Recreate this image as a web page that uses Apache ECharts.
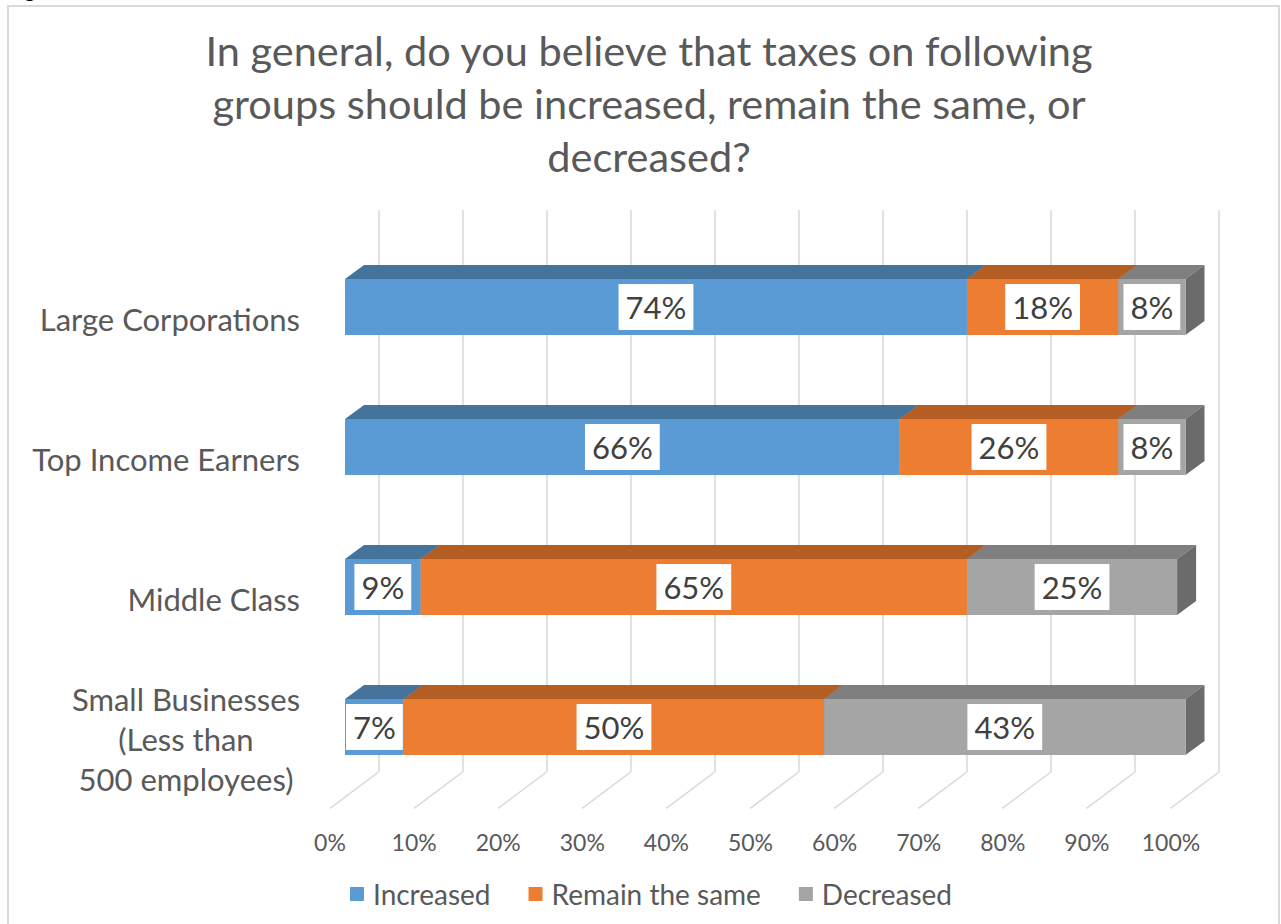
<!DOCTYPE html>
<html>
<head>
<meta charset="utf-8">
<script src="https://cdn.jsdelivr.net/npm/echarts@6/dist/echarts.min.js"></script>
<style>
  html, body { margin: 0; padding: 0; background: #fff; }
  #chart { width: 1281px; height: 924px; }
</style>
</head>
<body>
<div id="chart"></div>
<script>
// Survey answers, percent of respondents per group
const categories = [
  'Large Corporations',
  'Top Income Earners',
  'Middle Class',
  'Small Businesses\n(Less than\n500 employees)'
];
const increased  = [74, 66, 9, 7];
const remainSame = [18, 26, 65, 50];
const decreased  = [8, 8, 25, 43];
const seriesNames = ['Increased', 'Remain the same', 'Decreased'];
const tickValues = [0, 10, 20, 30, 40, 50, 60, 70, 80, 90, 100];

// Face colours for the 3-D blocks: front, top, side
const palette = [
  { front: '#5B9BD5', top: '#44739C', side: '#3B6690' },
  { front: '#ED7D31', top: '#B45E23', side: '#9E521E' },
  { front: '#A5A5A5', top: '#7F7F7F', side: '#6B6B6B' }
];

// Oblique projection offset for the block depth and the floor depth
const BAR_DX = 19, BAR_DY = -14;
const FLOOR_DX = -48.5, FLOOR_DY = 36.3;

const FONT = 'Lato, "Open Sans", sans-serif';
const TEXT = '#595959';

// Build stacked segments: [categoryIndex, start, end, value]
const valueSets = [increased, remainSame, decreased];
const cumulative = categories.map(() => 0);
const segments = valueSets.map(vals => vals.map((v, i) => {
  const s = cumulative[i];
  cumulative[i] += v;
  return [i, s, s + v, v];
}));

function makeBlockRenderer(colors) {
  return function (params, api) {
    const cat = api.value(0);
    const start = api.coord([api.value(1), cat]);
    const end = api.coord([api.value(2), cat]);
    const h = api.size([0, 1])[1] * 0.4;
    const x0 = start[0], x1 = end[0];
    const yT = start[1] - h / 2, yB = start[1] + h / 2;
    const val = api.value(3);
    return {
      type: 'group',
      children: [
        {
          type: 'polygon',
          shape: { points: [[x0, yT], [x1, yT], [x1 + BAR_DX, yT + BAR_DY], [x0 + BAR_DX, yT + BAR_DY]] },
          style: { fill: colors.top }
        },
        {
          type: 'polygon',
          shape: { points: [[x1, yT], [x1 + BAR_DX, yT + BAR_DY], [x1 + BAR_DX, yB + BAR_DY], [x1, yB]] },
          style: { fill: colors.side }
        },
        {
          type: 'rect',
          shape: { x: x0, y: yT, width: x1 - x0, height: yB - yT },
          style: { fill: colors.front }
        },
        {
          type: 'text',
          style: {
            text: val + '%',
            x: (x0 + x1) / 2,
            y: (yT + yB) / 2,
            align: 'center',
            verticalAlign: 'middle',
            fill: '#404040',
            fontSize: 31,
            fontFamily: FONT,
            lineHeight: 38,
            backgroundColor: '#ffffff',
            padding: [4, 7]
          }
        }
      ]
    };
  };
}

const chart = echarts.init(document.getElementById('chart'), null, { renderer: 'svg' });

const option = {
  backgroundColor: '#ffffff',
  textStyle: { fontFamily: FONT },
  animation: false,
  graphic: [
    {
      type: 'rect',
      shape: { x: 8, y: 6, width: 1271, height: 930 },
      style: { fill: 'none', stroke: '#d9d9d9', lineWidth: 2 },
      z: -10
    },
    {
      type: 'text',
      left: 8,
      top: -21,
      style: { text: 'Figure', fill: '#000', fontSize: 20, fontWeight: 'bold', fontFamily: FONT }
    }
  ],
  title: {
    text: 'In general, do you believe that taxes on following\ngroups should be increased, remain the same, or\ndecreased?',
    left: 644,
    top: 18,
    textAlign: 'center',
    textStyle: {
      color: TEXT,
      fontSize: 41.5,
      fontWeight: 'normal',
      lineHeight: 53,
      fontFamily: FONT
    }
  },
  legend: {
    data: seriesNames,
    bottom: 16,
    left: 350,
    padding: 0,
    icon: 'rect',
    itemWidth: 14,
    itemHeight: 14,
    itemGap: 38,
    textStyle: { color: TEXT, fontSize: 28, fontFamily: FONT, padding: [0, 0, 0, 4] }
  },
  grid: [
    // front faces of the blocks
    { left: 345, width: 840.5, top: 237, height: 560 },
    // back wall carrying the gridlines
    { left: 378.5, width: 840.5, top: 210, height: 562 },
    // front edge of the floor: axis labels
    { left: 330, width: 841, top: 249, height: 560 }
  ],
  xAxis: [
    { gridIndex: 0, type: 'value', min: 0, max: 100, show: false },
    {
      gridIndex: 1, type: 'value', min: 0, max: 100, interval: 10,
      axisLabel: { show: false }, axisLine: { show: false }, axisTick: { show: false },
      splitLine: { show: true, lineStyle: { color: '#d9d9d9', width: 1.5 } }
    },
    {
      gridIndex: 2, type: 'value', min: 0, max: 100, interval: 10,
      axisLine: { show: false }, axisTick: { show: false }, splitLine: { show: false },
      axisLabel: {
        formatter: v => v + '%',
        color: TEXT, fontSize: 23, fontFamily: FONT, margin: 21
      }
    }
  ],
  yAxis: [
    { gridIndex: 0, type: 'category', data: categories, inverse: true, show: false },
    { gridIndex: 1, type: 'value', min: 0, max: 1, show: false },
    {
      gridIndex: 2, type: 'category', data: categories, inverse: true,
      axisLine: { show: false }, axisTick: { show: false },
      axisLabel: {
        color: TEXT, fontSize: 31, fontFamily: FONT, margin: 30, lineHeight: 40,
        formatter: v => v.indexOf('\n') >= 0
          ? v.split('\n').map(line => '{c|' + line + '}').join('\n')
          : v,
        rich: {
          c: { width: 228, align: 'center', color: TEXT, fontSize: 31, fontFamily: FONT, lineHeight: 40 }
        }
      }
    }
  ],
  series: [
    {
      // diagonal floor lines joining the wall gridlines to the front labels
      type: 'custom',
      xAxisIndex: 1,
      yAxisIndex: 1,
      silent: true,
      z: 1,
      data: tickValues.map(v => [v, 0]),
      renderItem: function (params, api) {
        const p = api.coord([api.value(0), 0]);
        return {
          type: 'line',
          shape: { x1: p[0], y1: p[1], x2: p[0] + FLOOR_DX, y2: p[1] + FLOOR_DY },
          style: { stroke: '#d9d9d9', lineWidth: 1.5 }
        };
      }
    }
  ].concat(seriesNames.map((name, k) => ({
    name: name,
    type: 'custom',
    xAxisIndex: 0,
    yAxisIndex: 0,
    z: 2 + k,
    itemStyle: { color: palette[k].front },
    encode: { x: [1, 2], y: 0 },
    data: segments[k],
    renderItem: makeBlockRenderer(palette[k])
  })))
};

chart.setOption(option);
</script>
</body>
</html>
